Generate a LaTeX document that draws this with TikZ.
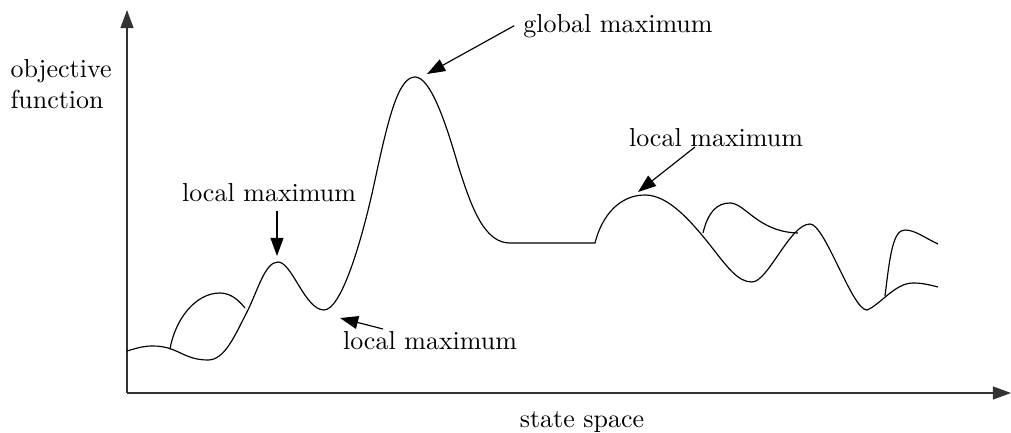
\documentclass[tikz,border=0pt]{standalone}
\usepackage{tikz}
\usetikzlibrary{arrows.meta}

\begin{document}
\begin{tikzpicture}[
    x=0.385pt, y=-0.385pt,
    lbl/.style={font=\normalsize, anchor=base},
    axis/.style={line width=0.6pt, black!80},
    curve/.style={line width=0.45pt},
    pointer/.style={->, line width=0.45pt},
    >={Triangle[length=7pt,width=5pt]}
]
\useasboundingbox (0,0) rectangle (1011,433);

% Axes
\coordinate (origin) at (127,393);
\coordinate (ytop) at (127,10);
\coordinate (xend) at (1011,393);
\draw[axis, ->] (origin) -- (ytop);
\draw[axis, ->] (origin) -- (xend);
\node[anchor=north west, inner sep=0pt, align=left] (ylabel) at (10,59) {objective\\function};
\node[lbl] (xlabel) at (582,427) {state space};

% Landscape
\draw[curve] (127,351) .. controls (140,347) and (145,346) .. (153,346)
    .. controls (178,346) and (183,360) .. (208,360)
    .. controls (225,360) and (235,335) .. (247,312)
    .. controls (258,290) and (265,262) .. (278,262)
    .. controls (292,262) and (305,310) .. (324,310)
    .. controls (340,310) and (360,250) .. (375,180)
    .. controls (388,120) and (398,77) .. (415,77)
    .. controls (430,77) and (445,120) .. (458,165)
    .. controls (472,210) and (485,243) .. (510,243)
    -- (595,243)
    .. controls (602,215) and (620,195) .. (645,195)
    .. controls (668,195) and (690,220) .. (710,245)
    .. controls (728,268) and (738,282) .. (752,282)
    .. controls (768,282) and (790,224) .. (810,224)
    .. controls (825,224) and (852,310) .. (867,310)
    .. controls (880,305) and (895,283) .. (913,283)
    .. controls (923,283) and (930,285) .. (938,287);
% side branches
\draw[curve] (170,349) .. controls (175,320) and (195,293) .. (220,293)
    .. controls (232,293) and (240,302) .. (245,308);
\draw[curve] (703,233) .. controls (708,212) and (717,203) .. (730,203)
    .. controls (745,203) and (758,232) .. (798,233);
\draw[curve] (885,296) .. controls (890,255) and (893,230) .. (905,230)
    .. controls (915,230) and (925,238) .. (938,244);

% Labels and pointers
\coordinate (gmax) at (427,74);
\coordinate (lmaxa) at (277,256);
\coordinate (lmaxb) at (340,318);
\coordinate (lmaxc) at (638,192);
\node[lbl] (gtext) at (618,32) {global maximum};
\node[lbl] (ltexta) at (269,202) {local maximum};
\node[lbl] (ltextb) at (430,350) {local maximum};
\node[lbl] (ltextc) at (716,147) {local maximum};
\coordinate (startb) at (383,329);
\coordinate (startc) at (695,147);
\draw[pointer] (gtext.west) -- (gmax);
\draw[pointer] (ltexta.south -| lmaxa) -- (lmaxa);
\draw[pointer] (startb) -- (lmaxb);
\draw[pointer] (startc) -- (lmaxc);

\end{tikzpicture}
\end{document}
